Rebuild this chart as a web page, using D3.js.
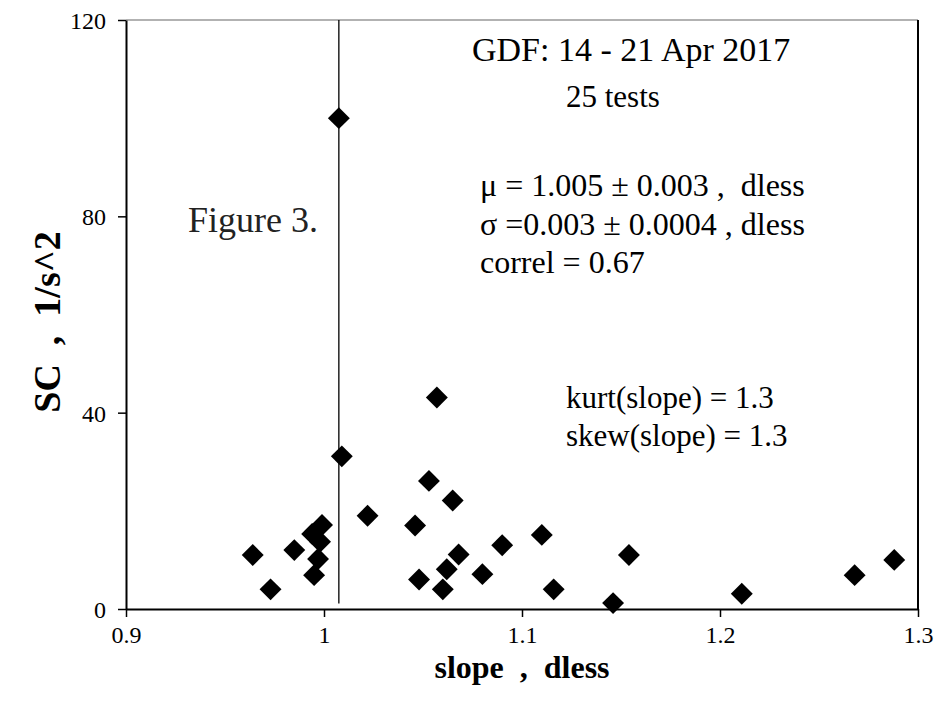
<!DOCTYPE html>
<html>
<head>
<meta charset="utf-8">
<script src="https://cdn.jsdelivr.net/npm/d3@7"></script>
<style>
  body { margin: 0; background: #fff; }
  text { font-family: "Liberation Serif", "Times New Roman", serif; white-space: pre; }
</style>
</head>
<body>
<div id="chart"></div>
<script>
// slope (dless) vs SC (1/s^2)
var slope = [0.964, 0.973, 0.985, 0.994, 0.995, 0.997, 0.998, 0.999, 1.0075, 1.009,
             1.022, 1.057, 1.046, 1.048, 1.053, 1.060, 1.062, 1.065, 1.068, 1.080,
             1.090, 1.110, 1.116, 1.146, 1.154, 1.211, 1.268, 1.288];
var sc = [11.0, 4.0, 12.0, 15.3, 6.9, 10.2, 13.7, 17.1, 100, 31.1,
          19.0, 43.1, 17.0, 6.0, 26.1, 4.0, 8.1, 22.1, 11.1, 7.1,
          13.0, 15.1, 4.0, 1.2, 11.0, 3.1, 6.9, 10.0];
var meanSlope = 1.0075;
var xTicks = [0.9, 1, 1.1, 1.2, 1.3];
var yTicks = [0, 40, 80, 120];
var notes = ["μ = 1.005 ± 0.003 ,  dless", "σ =0.003 ± 0.0004 , dless", "correl = 0.67"];
var moments = ["kurt(slope) = 1.3", "skew(slope) = 1.3"];

var W = 938, H = 704;
var margin = {top: 20, right: 20, bottom: 95, left: 126};
var width = W - margin.left - margin.right,
    height = H - margin.top - margin.bottom;

var svg = d3.select("#chart").append("svg")
    .attr("width", W).attr("height", H);
var g = svg.append("g")
    .attr("transform", "translate(" + margin.left + "," + margin.top + ")");

var xScale = d3.scaleLinear().domain([0.9, 1.3]).range([0, width]);
var yScale = d3.scaleLinear().domain([0, 120]).range([height, 0]);

// frame (top edge is a lighter hairline in the original)
g.append("line").attr("x1", 0).attr("x2", width).attr("y1", 0).attr("y2", 0)
    .attr("stroke", "#666").attr("stroke-width", 1.2);
g.append("line").attr("x1", width).attr("x2", width).attr("y1", 0).attr("y2", height)
    .attr("stroke", "#000").attr("stroke-width", 2);

var xAxis = g.append("g").attr("transform", "translate(0," + height + ")")
    .call(d3.axisBottom(xScale).tickValues(xTicks).tickSize(8).tickSizeOuter(0)
        .tickFormat(d3.format("")));
var yAxis = g.append("g")
    .call(d3.axisLeft(yScale).tickValues(yTicks).tickSize(8).tickSizeOuter(0));
[xAxis, yAxis].forEach(function(a) {
    a.select(".domain").attr("stroke-width", 2);
    a.selectAll(".tick line").attr("stroke-width", 1.5);
    a.selectAll("text").attr("font-size", 24)
        .attr("font-family", "Liberation Serif").attr("fill", "#000");
});
xAxis.selectAll("text").attr("dy", "0.95em");
yAxis.selectAll("text").attr("x", -20).attr("dy", "0.35em");

// mean slope marker
g.append("line")
    .attr("x1", xScale(meanSlope)).attr("x2", xScale(meanSlope))
    .attr("y1", 0).attr("y2", yScale(1.1))
    .attr("stroke", "#000").attr("stroke-width", 1.3);

var diamond = d3.symbol().type(d3.symbolSquare).size(240);
g.selectAll(".pt").data(slope).enter().append("path")
    .attr("class", "pt")
    .attr("d", diamond)
    .attr("transform", function(d, i) {
        return "translate(" + xScale(d) + "," + yScale(sc[i]) + ") rotate(45)";
    })
    .attr("fill", "#000");

// annotations
svg.append("text").attr("x", 472).attr("y", 61).attr("font-size", 34)
    .text("GDF: 14 - 21 Apr 2017");
svg.append("text").attr("x", 566).attr("y", 107).attr("font-size", 31)
    .text("25 tests");
svg.selectAll(".note").data(notes).enter().append("text")
    .attr("x", 480).attr("y", function(d, i) { return 196 + i * 38.5; })
    .attr("font-size", 32).text(function(d) { return d; });
svg.selectAll(".mom").data(moments).enter().append("text")
    .attr("x", 566).attr("y", function(d, i) { return 408 + i * 38; })
    .attr("font-size", 31).text(function(d) { return d; });
svg.append("text").attr("x", 318).attr("y", 232).attr("font-size", 36)
    .attr("text-anchor", "end").attr("fill", "#222").text("Figure 3.");

// axis titles
svg.append("text").attr("x", margin.left + width / 2).attr("y", 678)
    .attr("text-anchor", "middle").attr("font-size", 32).attr("font-weight", "bold")
    .text("slope  ,  dless");
svg.append("text")
    .attr("transform", "translate(60,322) rotate(-90)")
    .attr("text-anchor", "middle").attr("font-size", 38).attr("font-weight", "bold")
    .text("SC  ,  1/s^2");
</script>
</body>
</html>
